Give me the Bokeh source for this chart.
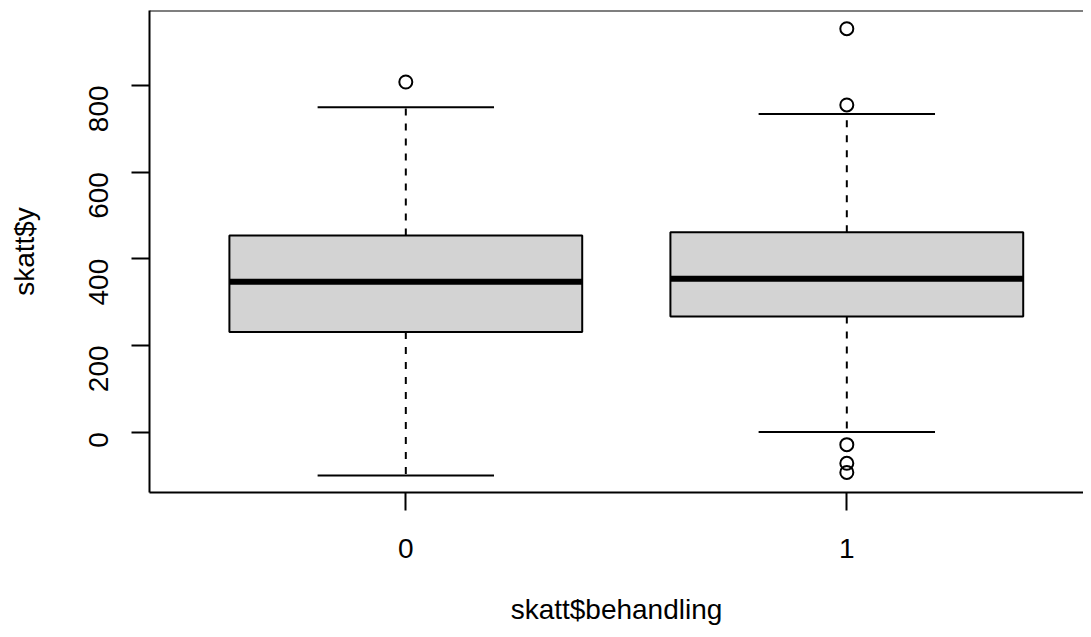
import math
from bokeh.plotting import figure
from bokeh.models import Span, FixedTicker, Range1d
from bokeh.embed import file_html
from bokeh.resources import INLINE

# ---- data ----
groups = [0, 1]
tick_labels = ["0", "1"]
q1 = [231, 267]
median = [347, 354]
q3 = [454, 461]
lower_whisker = [-100, 0]
upper_whisker = [750, 734]
outlier_group = [0, 1, 1, 1, 1, 1]
outlier_value = [808, 931, 755, -29, -72, -93]
y_ticks = [0, 200, 400, 600, 800]

# ---- layout constants ----
X_START, X_END = -0.5812, 1.5367
Y_START, Y_END = -139.4, 973.0
FONT = "Liberation Sans"
FS = "28px"

p = figure(width=1083, height=629, output_backend="svg", toolbar_location=None,
           x_range=Range1d(X_START, X_END), y_range=Range1d(Y_START, Y_END),
           min_border_left=149, min_border_right=0, min_border_top=10, min_border_bottom=137,
           background_fill_color="white", border_fill_color="white")
p.outline_line_color = None
p.grid.visible = False

# boxes
BOX_W = 0.8
CAP_HALF = 0.2
p.vbar(x=groups, width=BOX_W, bottom=q1, top=q3, fill_color="#D3D3D3",
       line_color="black", line_width=2)
# medians
p.segment(x0=[g - BOX_W / 2 for g in groups], x1=[g + BOX_W / 2 for g in groups],
          y0=median, y1=median, line_color="black", line_width=6)
# dashed whiskers
p.segment(x0=groups, x1=groups, y0=q3, y1=upper_whisker, line_color="black",
          line_width=2, line_dash="7 8")
p.segment(x0=groups, x1=groups, y0=q1, y1=lower_whisker, line_color="black",
          line_width=2, line_dash="7 8")
# caps
p.segment(x0=[g - CAP_HALF for g in groups], x1=[g + CAP_HALF for g in groups],
          y0=upper_whisker, y1=upper_whisker, line_color="black", line_width=2)
p.segment(x0=[g - CAP_HALF for g in groups], x1=[g + CAP_HALF for g in groups],
          y0=lower_whisker, y1=lower_whisker, line_color="black", line_width=2)
# outliers
p.scatter(x=outlier_group, y=outlier_value, marker="circle", size=13,
          fill_color=None, line_color="black", line_width=2)

# top frame border
p.add_layout(Span(location=Y_END, dimension="width", line_color="black", line_width=2))

# axes
xa = p.xaxis[0]
xa.ticker = FixedTicker(ticks=groups)
xa.major_label_overrides = {g: t for g, t in zip(groups, tick_labels)}
xa.axis_label = "skatt$behandling"
xa.major_label_standoff = 28
xa.axis_label_standoff = 33

ya = p.yaxis[0]
ya.ticker = FixedTicker(ticks=y_ticks)
ya.axis_label = "skatt$y"
ya.major_label_orientation = math.pi / 2
ya.major_label_standoff = 33
ya.axis_label_standoff = 37

for ax in (xa, ya):
    ax.axis_line_color = "black"
    ax.axis_line_width = 2
    ax.major_tick_line_color = "black"
    ax.major_tick_line_width = 2
    ax.major_tick_out = 18
    ax.major_tick_in = 0
    ax.minor_tick_line_color = None
    ax.major_label_text_font = FONT
    ax.major_label_text_font_size = FS
    ax.major_label_text_color = "black"
    ax.axis_label_text_font = FONT
    ax.axis_label_text_font_size = FS
    ax.axis_label_text_font_style = "normal"
    ax.axis_label_text_color = "black"

open("out.html", "w").write(file_html(p, INLINE))
